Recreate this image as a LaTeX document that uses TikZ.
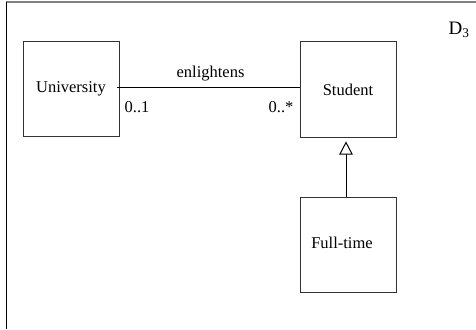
\documentclass[tikz,border=0pt]{standalone}
\usepackage{fontspec}
\setmainfont{Liberation Serif}
\begin{document}
\begin{tikzpicture}[x=1pt,y=-1pt,
  classbox/.style={draw=black!80, line width=1pt, minimum width=96pt, minimum height=95pt, inner sep=0pt},
  txt/.style={anchor=base, inner sep=0pt, font=\fontsize{16.5}{20}\selectfont},
  link/.style={draw=black, line width=1pt},
  hollowhead/.style={draw=black, fill=white, line width=1pt, line join=miter}]
  \useasboundingbox (0,0) rectangle (476,329);
  % frame: grey top edge, black left edge
  \draw[black!50, line width=2pt] (6,2) -- (476,2);
  \draw[black, line width=1.4pt] (6.5,2) -- (6.5,329);
  % class boxes
  \node[classbox] (uni) at (71,89) {};
  \node[classbox] (stu) at (348,89.5) {};
  \node[classbox] (ft) at (348,244.5) {};
  % class names
  \node[txt] (unitxt) at (71,92.7) {University};
  \node[txt] (stutxt) at (348,95.7) {Student};
  \node[txt] (fttxt) at (342,248.3) {Full-time};
  % association
  \coordinate (assocA) at (117,87);
  \draw[link] (assocA) -- (stu.west |- assocA);
  \node[txt] (assoc) at (210.5,77.3) {enlightens};
  \node[txt] (multA) at (137,112) {0..1};
  \node[txt] (multB) at (281,112) {0..*};
  % generalization: line up to a hollow triangle below Student
  \coordinate (gentip) at (346,142.5);
  \coordinate (genbase) at (346,154);
  \draw[link] (ft.north -| genbase) -- (genbase);
  \draw[hollowhead] (gentip) -- ([xshift=6pt]genbase) -- ([xshift=-6pt]genbase) -- cycle;
  % diagram tag
  \node[anchor=base, inner sep=0pt, font=\fontsize{19}{22}\selectfont] (tag) at (459,35) {D\textsubscript{3}};
\end{tikzpicture}
\end{document}
